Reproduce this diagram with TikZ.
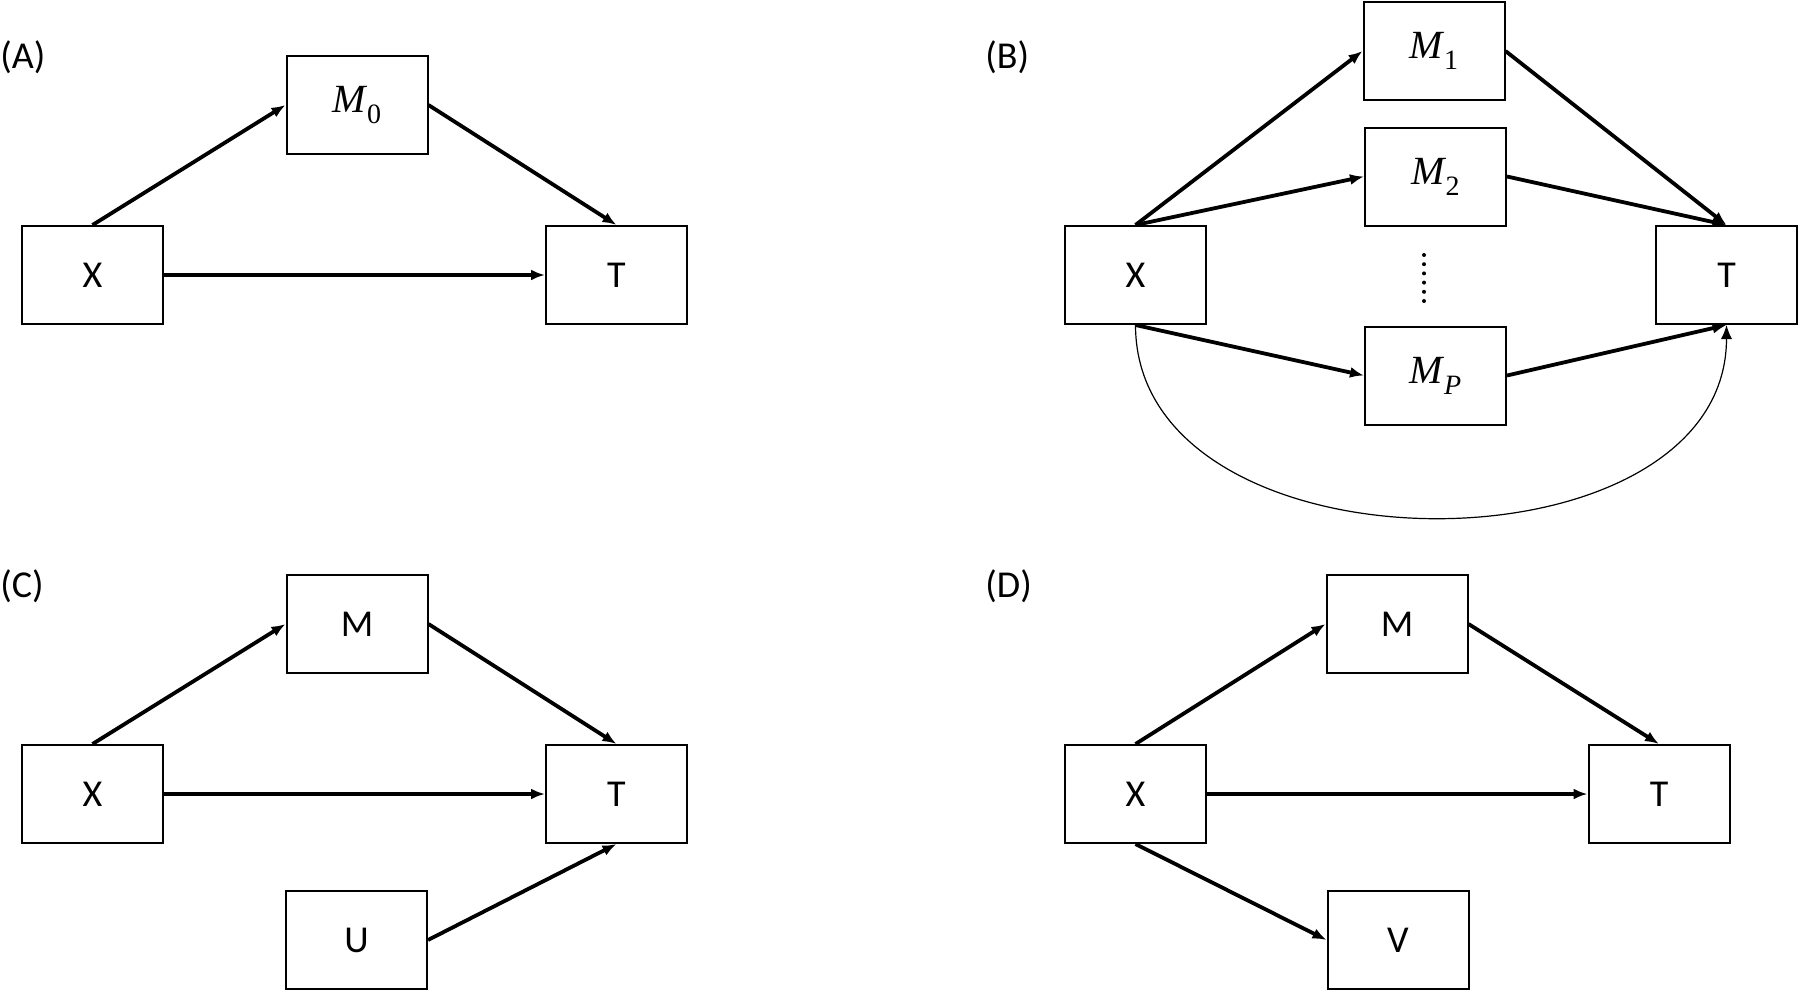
\documentclass[tikz,border=0pt]{standalone}
\usepackage{fontspec}
\setmainfont{Carlito}
\newfontfamily\mfont{Liberation Serif}
\usetikzlibrary{arrows.meta}
\newcommand{\Msub}[1]{{\mfont\itshape M}\kern0.5pt\raisebox{-0.28em}{\mfont\fontsize{14}{16}\selectfont #1}}
\begin{document}
\begin{tikzpicture}[x=0.5pt,y=-0.5pt,
  box/.style={draw,line width=1pt,minimum width=70.5pt,minimum height=49pt,inner sep=0pt,font=\fontsize{19}{22}\selectfont},
  mbox/.style={box,font=\fontsize{20}{22}\selectfont},
  lbl/.style={anchor=west,inner sep=0pt,font=\fontsize{19}{22}\selectfont},
  arr/.style={line width=1.9pt,-{Latex[length=7pt,width=5.5pt]}},
  thin/.style={line width=0.6pt,-{Latex[length=7pt,width=5.5pt]}}]
\useasboundingbox (0,0) rectangle (1800,992);
% Panel A
\node[lbl] (la) at (0,57) {(A)};
\node[mbox] (aM) at (357,105) {\Msub{0}};
\node[box] (aX) at (92.5,275) {X};
\node[box] (aT) at (616.5,275) {T};
\draw[arr] (aX.north) -- (aM.west);
\draw[arr] (aM.east) -- (aT.north);
\draw[arr] (aX.east) -- (aT.west);
% Panel B
\node[lbl] (lb) at (985,57) {(B)};
\node[mbox] (bM1) at (1434,51) {\Msub{1}};
\node[mbox] (bM2) at (1435.5,176.5) {\Msub{2}};
\node[mbox] (bMP) at (1435.5,375.5) {\Msub{\itshape P}};
\node[box] (bX) at (1135.5,275) {X};
\node[box] (bT) at (1726.5,275) {T};
\foreach \i in {0,...,5} \fill (1424,255+9.2*\i) circle (1pt);
\draw[arr] (bX.north) -- (bM1.west);
\draw[arr] (bX.north) -- (bM2.west);
\draw[arr] (bX.south) -- (bMP.west);
\draw[arr] (bM1.east) -- (bT.north);
\draw[arr] (bM2.east) -- (bT.north);
\draw[arr] (bMP.east) -- (bT.south);
\draw[thin] (bX.south) .. controls (1135.5,581) and (1726.5,581) .. (bT.south);
% Panel C
\node[lbl] (lc) at (0,586) {(C)};
\node[box] (cM) at (357,624) {M};
\node[box] (cX) at (92.5,794) {X};
\node[box] (cT) at (616.5,794) {T};
\node[box] (cU) at (356.5,940) {U};
\draw[arr] (cX.north) -- (cM.west);
\draw[arr] (cM.east) -- (cT.north);
\draw[arr] (cX.east) -- (cT.west);
\draw[arr] (cU.east) -- (cT.south);
% Panel D
\node[lbl] (ld) at (985,586) {(D)};
\node[box] (dM) at (1397,624) {M};
\node[box] (dX) at (1135.5,794) {X};
\node[box] (dT) at (1659,794) {T};
\node[box] (dV) at (1398,940) {V};
\draw[arr] (dX.north) -- (dM.west);
\draw[arr] (dM.east) -- (dT.north);
\draw[arr] (dX.east) -- (dT.west);
\draw[arr] (dX.south) -- (dV.west);
\end{tikzpicture}
\end{document}
